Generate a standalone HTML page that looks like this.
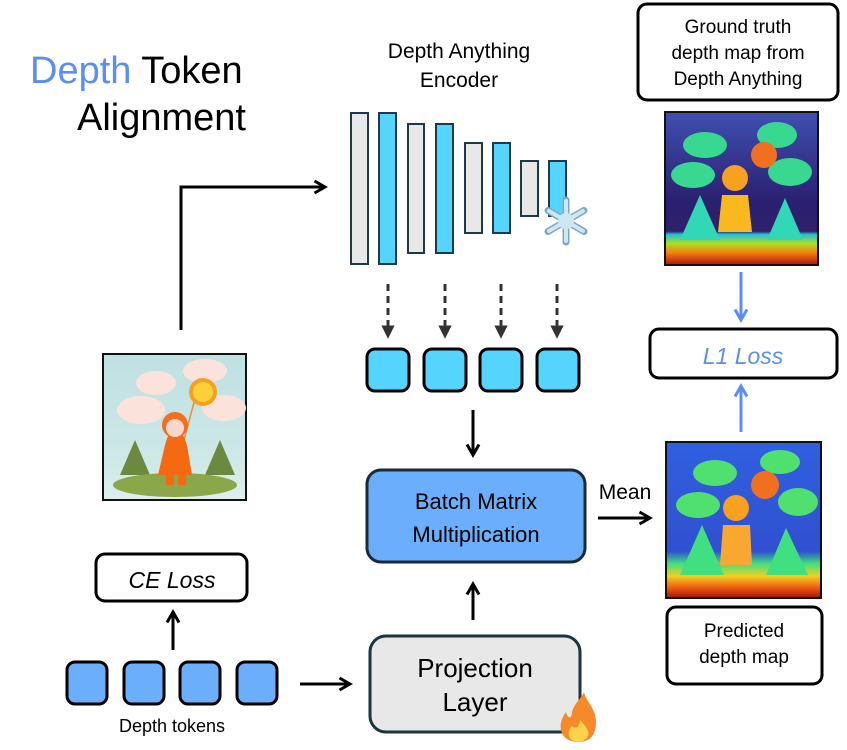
<!DOCTYPE html>
<html><head><meta charset="utf-8"><style>
body{margin:0;background:#fff;}
svg{display:block;font-family:"Liberation Sans",sans-serif;}
</style></head><body>
<svg width="847" height="750" viewBox="0 0 847 750" xmlns="http://www.w3.org/2000/svg">
<defs>
<marker id="ah" viewBox="0 0 10 10" refX="8" refY="5" markerWidth="5" markerHeight="5" orient="auto"><path d="M1,1 L8,5 L1,9" fill="none" stroke="#000" stroke-width="2"/></marker>
<marker id="ahb" viewBox="0 0 10 10" refX="8" refY="5" markerWidth="5" markerHeight="5" orient="auto"><path d="M1,1 L8,5 L1,9" fill="none" stroke="#5a8ef5" stroke-width="2"/></marker>
<marker id="ahd" viewBox="0 0 10 10" refX="5" refY="5" markerWidth="4.5" markerHeight="4.5" orient="auto"><path d="M0,0 L10,5 L0,10 Z" fill="#333"/></marker>
<linearGradient id="gtbg" x1="0" y1="0" x2="0" y2="1"><stop offset="0" stop-color="#3f4fb0"/><stop offset="0.6" stop-color="#2a1f70"/><stop offset="0.78" stop-color="#30206a"/><stop offset="0.8" stop-color="#20c0e0"/><stop offset="0.86" stop-color="#b0e020"/><stop offset="0.92" stop-color="#f08010"/><stop offset="1" stop-color="#b01010"/></linearGradient>
<linearGradient id="pdbg" x1="0" y1="0" x2="0" y2="1"><stop offset="0" stop-color="#3060e0"/><stop offset="0.7" stop-color="#3050d0"/><stop offset="0.78" stop-color="#40e080"/><stop offset="0.86" stop-color="#f0d020"/><stop offset="0.93" stop-color="#f06010"/><stop offset="1" stop-color="#a01010"/></linearGradient>
<linearGradient id="phbg" x1="0" y1="0" x2="0" y2="1"><stop offset="0" stop-color="#bfe0e2"/><stop offset="0.75" stop-color="#cfe8e8"/><stop offset="1" stop-color="#dfeeee"/></linearGradient>
</defs>

<!-- Title -->
<text x="30" y="83" font-size="38" fill="#5a8ef5">Depth <tspan fill="#000">Token</tspan></text>
<text x="77" y="130" font-size="38">Alignment</text>

<text x="459" y="58" font-size="21" text-anchor="middle">Depth Anything</text>
<text x="459" y="87" font-size="21" text-anchor="middle">Encoder</text>

<!-- encoder bars -->
<g stroke="#1e3a48" stroke-width="2">
<rect x="351" y="113" width="17" height="151" fill="#e8e8e8"/>
<rect x="379" y="113" width="17" height="151" fill="#55d4fd"/>
<rect x="408" y="124" width="16" height="129" fill="#e8e8e8"/>
<rect x="436" y="124" width="17" height="129" fill="#55d4fd"/>
<rect x="465" y="143" width="17" height="90" fill="#e8e8e8"/>
<rect x="493" y="143" width="17" height="90" fill="#55d4fd"/>
<rect x="521" y="161" width="17" height="55" fill="#e8e8e8"/>
<rect x="549" y="161" width="17" height="55" fill="#55d4fd"/>
</g>
<g transform="translate(566,221)" stroke="#7aa8c4" stroke-width="7" stroke-linecap="round">
<line x1="0" y1="-21" x2="0" y2="21"/><line x1="-18" y1="-10.5" x2="18" y2="10.5"/><line x1="-18" y1="10.5" x2="18" y2="-10.5"/>
</g>
<g transform="translate(566,221)" stroke="#cfe6f4" stroke-width="4" stroke-linecap="round">
<line x1="0" y1="-20" x2="0" y2="20"/><line x1="-17" y1="-10" x2="17" y2="10"/><line x1="-17" y1="10" x2="17" y2="-10"/>
</g>
<circle cx="566" cy="221" r="8" fill="#cfe6f4"/>

<!-- dashed arrows -->
<g stroke="#333" stroke-width="3" stroke-dasharray="7,5" marker-end="url(#ahd)">
<line x1="388" y1="284" x2="388" y2="332"/>
<line x1="445" y1="284" x2="445" y2="332"/>
<line x1="501" y1="284" x2="501" y2="332"/>
<line x1="557" y1="284" x2="557" y2="332"/>
</g>
<g fill="#55d4fd" stroke="#000" stroke-width="3">
<rect x="367" y="349" width="42" height="42" rx="8"/>
<rect x="424" y="349" width="42" height="42" rx="8"/>
<rect x="480" y="349" width="42" height="42" rx="8"/>
<rect x="537" y="349" width="42" height="42" rx="8"/>
</g>

<!-- arrows black -->
<g stroke="#000" stroke-width="3" fill="none" marker-end="url(#ah)">
<line x1="473" y1="410" x2="473" y2="455"/>
<line x1="473" y1="620" x2="473" y2="584"/>
<polyline points="181,330 181,187 325,187"/>
<line x1="598" y1="518" x2="650" y2="518"/>
<line x1="300" y1="684" x2="350" y2="684"/>
<line x1="173" y1="650" x2="173" y2="612"/>
</g>

<!-- Batch box -->
<rect x="367" y="470" width="218" height="92" rx="14" fill="#6aaefc" stroke="#1a2a36" stroke-width="3"/>
<text x="476" y="509" font-size="22" text-anchor="middle">Batch Matrix</text>
<text x="476" y="542" font-size="22" text-anchor="middle">Multiplication</text>

<!-- Projection -->
<rect x="370" y="636" width="210" height="96" rx="16" fill="#e8e8e8" stroke="#1a3440" stroke-width="3"/>
<text x="475" y="677" font-size="26" text-anchor="middle">Projection</text>
<text x="475" y="711" font-size="26" text-anchor="middle">Layer</text>
<path d="M578,742 C560,742 556,725 566,712 C568,720 572,718 572,712 C574,704 580,700 584,692 C586,702 596,708 596,722 C596,735 590,742 578,742 Z" fill="#f6892a"/>
<path d="M578,742 C568,742 566,732 572,726 C576,730 580,726 580,720 C586,726 590,732 588,736 C586,740 582,742 578,742 Z" fill="#fcd24a"/>

<!-- CE loss & tokens -->
<rect x="96" y="554" width="151" height="47" rx="9" fill="#fff" stroke="#000" stroke-width="3"/>
<text x="172" y="588" font-size="23" font-style="italic" text-anchor="middle">CE Loss</text>
<g fill="#6aaefc" stroke="#000" stroke-width="3">
<rect x="67" y="662" width="40" height="42" rx="8"/>
<rect x="124" y="662" width="40" height="42" rx="8"/>
<rect x="180" y="662" width="40" height="42" rx="8"/>
<rect x="237" y="662" width="40" height="42" rx="8"/>
</g>
<text x="172" y="732" font-size="18" text-anchor="middle">Depth tokens</text>

<!-- photo -->
<rect x="103" y="354" width="143" height="146" fill="url(#phbg)" stroke="#111" stroke-width="2"/>
<g fill="#fbe3dc">
<ellipse cx="141" cy="410" rx="24" ry="14"/><ellipse cx="156" cy="383" rx="20" ry="12"/><ellipse cx="205" cy="371" rx="22" ry="12"/><ellipse cx="224" cy="408" rx="22" ry="13"/>
</g>
<polygon points="135,440 120,475 150,475" fill="#6b8a40"/><polygon points="220,440 205,475 235,475" fill="#6b8a40"/>
<ellipse cx="175" cy="485" rx="62" ry="12" fill="#8aa84a"/>
<line x1="196" y1="395" x2="184" y2="440" stroke="#e84" stroke-width="1.5"/>
<circle cx="203" cy="392" r="14" fill="#f5a020"/><circle cx="203" cy="392" r="10" fill="#fbd13a"/>
<path d="M165,445 Q175,410 187,445 L192,475 L158,475 Z" fill="#f36a10"/>
<circle cx="175" cy="425" r="13" fill="#f07020"/><circle cx="175" cy="428" r="9" fill="#f8d8cc"/>
<rect x="166" y="475" width="8" height="10" fill="#f36a10"/><rect x="178" y="475" width="8" height="10" fill="#f36a10"/>

<!-- GT box -->
<rect x="638" y="4" width="200" height="96" rx="9" fill="#fff" stroke="#000" stroke-width="3"/>
<text x="738" y="33" font-size="19" text-anchor="middle">Ground truth</text>
<text x="738" y="59" font-size="19" text-anchor="middle">depth map from</text>
<text x="738" y="85" font-size="19" text-anchor="middle">Depth Anything</text>

<!-- GT image -->
<rect x="665" y="112" width="153" height="153" fill="url(#gtbg)" stroke="#111" stroke-width="2"/>
<g fill="#38d890">
<ellipse cx="705" cy="145" rx="22" ry="13"/><ellipse cx="777" cy="135" rx="20" ry="13"/><ellipse cx="693" cy="175" rx="22" ry="13"/><ellipse cx="790" cy="172" rx="22" ry="14"/>
</g>
<g fill="#30d8b8"><polygon points="700,195 680,240 720,240"/><polygon points="785,198 767,240 803,240"/></g>
<circle cx="764" cy="155" r="13" fill="#f07020"/>
<circle cx="735" cy="178" r="13" fill="#f8a020"/>
<path d="M722,195 L748,195 L752,232 L718,232 Z" fill="#f8b820"/>

<line x1="741" y1="272" x2="741" y2="320" stroke="#5a8ef5" stroke-width="3" marker-end="url(#ahb)"/>
<rect x="650" y="329" width="187" height="49" rx="9" fill="#fff" stroke="#000" stroke-width="3"/>
<text x="743" y="364" font-size="23" font-style="italic" fill="#5a8ef5" text-anchor="middle">L1 Loss</text>
<line x1="741" y1="432" x2="741" y2="386" stroke="#5a8ef5" stroke-width="3" marker-end="url(#ahb)"/>

<!-- predicted image -->
<rect x="666" y="442" width="155" height="156" fill="url(#pdbg)" stroke="#111" stroke-width="2"/>
<g fill="#50e070">
<ellipse cx="715" cy="473" rx="22" ry="13"/><ellipse cx="780" cy="462" rx="20" ry="12"/><ellipse cx="698" cy="505" rx="22" ry="13"/><ellipse cx="798" cy="502" rx="20" ry="14"/>
</g>
<g fill="#40e080"><polygon points="702,525 680,575 724,575"/><polygon points="786,528 766,575 808,575"/></g>
<circle cx="765" cy="485" r="14" fill="#f07020"/>
<circle cx="736" cy="508" r="13" fill="#f8a020"/>
<path d="M723,525 L750,525 L752,565 L720,565 Z" fill="#f8a830"/>

<text x="625" y="499" font-size="21" text-anchor="middle">Mean</text>

<rect x="667" y="607" width="155" height="77" rx="9" fill="#fff" stroke="#000" stroke-width="3"/>
<text x="744" y="637" font-size="19" text-anchor="middle">Predicted</text>
<text x="744" y="663" font-size="19" text-anchor="middle">depth map</text>
</svg>
</body></html>
